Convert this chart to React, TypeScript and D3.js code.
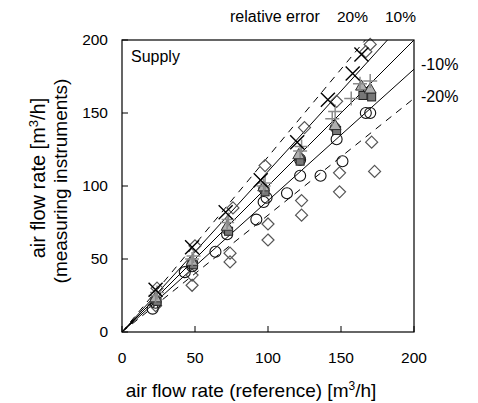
import React from "react";
import * as d3 from "d3";

// ---- data (reference flow [m3/h] vs measured flow [m3/h]) ----
const crossRef = [23, 48, 71, 95, 120, 141, 158, 164];
const crossMeas = [29, 58, 82, 104, 130, 159, 177, 190];

const plusRef = [23, 24, 48, 49, 72, 73, 97, 98, 122, 123, 144, 146, 157, 163, 170];
const plusMeas = [25, 27, 50, 52, 75, 77, 100, 102, 124, 127, 146, 151, 160, 170, 172];

const triRef = [23, 48, 72, 97, 121, 146, 164, 170];
const triMeas = [23, 48, 72, 99, 121, 141, 168, 166];

const sqRef = [24, 49, 73, 98, 122, 147, 165, 171];
const sqMeas = [21, 46, 69, 96, 117, 138, 162, 161];

const dotRef = [23, 48, 72, 97, 122, 146];
const dotMeas = [22, 47, 70, 98, 119, 140];

const circRef = [21, 23, 43, 48, 64, 72, 92, 97, 99, 113, 122, 122, 136, 147, 151, 167, 170];
const circMeas = [16, 20, 41, 45, 55, 67, 77, 89, 92, 95, 107, 118, 107, 132, 117, 150, 150];

const diaRef = [23, 24, 48, 48, 50, 74, 74, 76, 98, 100, 100, 123, 123, 125, 147, 149, 149, 167, 170, 171, 173];
const diaMeas = [18, 30, 39, 32, 59, 54, 48, 85, 114, 74, 63, 90, 80, 140, 158, 109, 96, 192, 197, 130, 110];

const ratioLines = [1.2, 1.1, 1.0, 0.9, 0.8];
const ratioDashed = [true, false, false, false, true];

const ticks = [0, 50, 100, 150, 200];

const W = 478;
const H = 403;
const FONT = "Liberation Sans, Arial, sans-serif";

export default function App() {
  const x = d3.scaleLinear().domain([0, 200]).range([122, 414]);
  const y = d3.scaleLinear().domain([0, 200]).range([332, 40]);

  const zip = (a: number[], b: number[]) => a.map((v, i) => [v, b[i]] as [number, number]);

  const lineFor = (k: number) => {
    const xEnd = Math.min(200, 200 / k);
    return d3.line()([
      [x(0), y(0)],
      [x(xEnd), y(k * xEnd)],
    ]) as string;
  };

  const triPath = d3.symbol().type(d3.symbolTriangle).size(60)() as string;

  return (
    <svg
      width={W}
      height={H}
      style={{ position: "absolute", left: 0, top: 0, background: "#fff" }}
      fontFamily={FONT}
    >
      {/* ratio lines */}
      {ratioLines.map((k, i) => (
        <path
          key={"l" + k}
          d={lineFor(k)}
          stroke="#000"
          strokeWidth={1}
          fill="none"
          strokeDasharray={ratioDashed[i] ? "7,6" : undefined}
        />
      ))}

      {/* diamonds */}
      {zip(diaRef, diaMeas).map(([a, b], i) => (
        <path
          key={"d" + i}
          d={`M${x(a)},${y(b) - 6}L${x(a) + 6},${y(b)}L${x(a)},${y(b) + 6}L${x(a) - 6},${y(b)}Z`}
          fill="none"
          stroke="#555"
          strokeWidth={1.2}
        />
      ))}

      {/* open circles */}
      {zip(circRef, circMeas).map(([a, b], i) => (
        <circle key={"c" + i} cx={x(a)} cy={y(b)} r={5.5} fill="none" stroke="#111" strokeWidth={1.1} />
      ))}

      {/* dark filled circles */}
      {zip(dotRef, dotMeas).map(([a, b], i) => (
        <circle key={"o" + i} cx={x(a)} cy={y(b)} r={5} fill="#6a6a6a" stroke="#333" strokeWidth={1} />
      ))}

      {/* squares */}
      {zip(sqRef, sqMeas).map(([a, b], i) => (
        <rect key={"s" + i} x={x(a) - 4} y={y(b) - 4} width={8} height={8} fill="#777" stroke="#222" strokeWidth={1} />
      ))}

      {/* triangles */}
      {zip(triRef, triMeas).map(([a, b], i) => (
        <path
          key={"t" + i}
          d={triPath}
          transform={`translate(${x(a)},${y(b)})`}
          fill="#b0b0b0"
          stroke="#333"
          strokeWidth={1}
        />
      ))}

      {/* plus */}
      {zip(plusRef, plusMeas).map(([a, b], i) => (
        <path
          key={"p" + i}
          d={`M${x(a) - 7},${y(b)}H${x(a) + 7}M${x(a)},${y(b) - 7}V${y(b) + 7}`}
          stroke="#8a8a8a"
          strokeWidth={1.5}
        />
      ))}

      {/* crosses */}
      {zip(crossRef, crossMeas).map(([a, b], i) => (
        <path
          key={"x" + i}
          d={`M${x(a) - 7},${y(b) - 7}L${x(a) + 7},${y(b) + 7}M${x(a) - 7},${y(b) + 7}L${x(a) + 7},${y(b) - 7}`}
          stroke="#000"
          strokeWidth={1.4}
        />
      ))}

      {/* frame */}
      <rect x={x(0)} y={y(200)} width={x(200) - x(0)} height={y(0) - y(200)} fill="none" stroke="#000" strokeWidth={1.2} />

      {/* ticks */}
      {ticks.map((t) => (
        <g key={"tk" + t}>
          <line x1={x(t)} x2={x(t)} y1={y(0)} y2={y(0) - 6} stroke="#000" />
          <line x1={x(0)} x2={x(0) + 6} y1={y(t)} y2={y(t)} stroke="#000" />
          <text x={x(t)} y={363} fontSize={15.5} textAnchor="middle">
            {t}
          </text>
          <text x={108} y={y(t)} dy="0.35em" fontSize={15.5} textAnchor="end">
            {t}
          </text>
        </g>
      ))}

      {/* Supply label */}
      <text x={131} y={62} fontSize={16}>
        Supply
      </text>

      {/* relative error labels */}
      <text x={230} y={22} fontSize={16}>
        relative error
      </text>
      <text x={337} y={22} fontSize={15.5}>
        20%
      </text>
      <text x={385} y={22} fontSize={15.5}>
        10%
      </text>
      <text x={421} y={70} fontSize={16}>
        -10%
      </text>
      <text x={421} y={102} fontSize={16}>
        -20%
      </text>

      {/* x axis title */}
      <text x={251} y={397} fontSize={19} textAnchor="middle">
        air flow rate (reference) [m
        <tspan dy={-7} fontSize={12}>
          3
        </tspan>
        <tspan dy={7}>/h]</tspan>
      </text>

      {/* y axis title */}
      <text transform="translate(45,178) rotate(-90)" fontSize={20} textAnchor="middle">
        air flow rate [m
        <tspan dy={-7} fontSize={13}>
          3
        </tspan>
        <tspan dy={7}>/h]</tspan>
      </text>
      <text transform="translate(67,181) rotate(-90)" fontSize={19} textAnchor="middle">
        (measuring instruments)
      </text>
    </svg>
  );
}
